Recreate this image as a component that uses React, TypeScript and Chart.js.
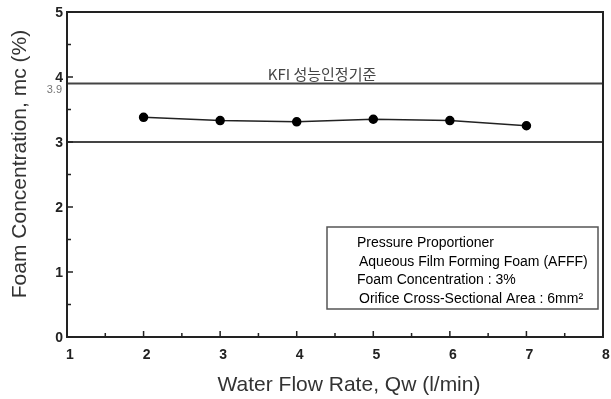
import React, { useEffect, useRef } from "react";
import { Chart, registerables } from "chart.js";

Chart.register(...registerables);

// Measured foam concentration at each water flow rate
const flowRates = [2, 3, 4, 5, 6, 7];
const concentrations = [3.38, 3.33, 3.31, 3.35, 3.33, 3.25];

// Horizontal reference levels (KFI acceptance band)
const upperLimit = 3.9;
const lowerLimit = 3.0;
const xRange = [1, 8];
const yRange = [0, 5];
const xTicks = [1, 2, 3, 4, 5, 6, 7, 8];
const yTicks = [0, 1, 2, 3, 4, 5];

const xTitle = "Water Flow Rate, Qw (l/min)";
const yTitle = "Foam Concentration, mc (%)";
const bandLabel = "KFI 성능인정기준";
const legendLines = [
  "Pressure Proportioner",
  "Aqueous Film Forming Foam (AFFF)",
  "Foam Concentration : 3%",
  "Orifice Cross-Sectional Area : 6mm²",
];

const FONT = "'Liberation Sans', Arial, sans-serif";

const decorations = {
  id: "decorations",
  afterDraw(chart: any) {
    const { ctx, chartArea, scales } = chart;
    const { left, right, top, bottom } = chartArea;
    const x = scales.x;
    const y = scales.y;
    ctx.save();

    // frame
    ctx.strokeStyle = "#222";
    ctx.lineWidth = 2;
    ctx.strokeRect(left, top, right - left, bottom - top);

    // inward ticks, major and minor
    ctx.lineWidth = 1.5;
    ctx.beginPath();
    for (let v = yRange[0]; v <= yRange[1] + 1e-9; v += 0.5) {
      const py = y.getPixelForValue(v);
      const len = Number.isInteger(v) ? 6 : 4;
      ctx.moveTo(left, py);
      ctx.lineTo(left + len, py);
    }
    for (let v = xRange[0]; v <= xRange[1] + 1e-9; v += 0.5) {
      const px = x.getPixelForValue(v);
      const len = Number.isInteger(v) ? 6 : 4;
      ctx.moveTo(px, bottom);
      ctx.lineTo(px, bottom - len);
    }
    ctx.stroke();

    // tick labels
    ctx.fillStyle = "#222";
    ctx.font = `bold 14px ${FONT}`;
    ctx.textBaseline = "middle";
    ctx.textAlign = "center";
    xTicks.forEach((v) => ctx.fillText(String(v), x.getPixelForValue(v) + 3, bottom + 18));
    ctx.textAlign = "right";
    yTicks.forEach((v) => ctx.fillText(String(v), left - 4, y.getPixelForValue(v) + 1));

    // band caption and upper-limit value
    ctx.fillStyle = "#444";
    ctx.font = `15px 'Noto Sans CJK KR', ${FONT}`;
    ctx.textAlign = "center";
    ctx.fillText(bandLabel, x.getPixelForValue(4.33), y.getPixelForValue(upperLimit) - 9);

    ctx.fillStyle = "#777";
    ctx.font = `11px ${FONT}`;
    ctx.textAlign = "right";
    ctx.fillText(String(upperLimit), left - 5, y.getPixelForValue(upperLimit) + 6);

    // info box
    const bx = right - 276;
    const by = bottom - 110;
    ctx.strokeStyle = "#555";
    ctx.lineWidth = 1.5;
    ctx.strokeRect(bx, by, 271, 82);
    ctx.fillStyle = "#000";
    ctx.font = `14px ${FONT}`;
    ctx.textAlign = "left";
    const offsets = [30, 32, 30, 32];
    const rows = [16, 35, 53, 72];
    legendLines.forEach((t, i) => ctx.fillText(t, bx + offsets[i], by + rows[i]));

    // axis titles
    ctx.fillStyle = "#333";
    ctx.font = `21px ${FONT}`;
    ctx.textAlign = "center";
    ctx.fillText(xTitle, 349, 385);
    ctx.translate(20, 164);
    ctx.rotate(-Math.PI / 2);
    ctx.fillText(yTitle, 0, 0);

    ctx.restore();
  },
};

export default function App() {
  const ref = useRef<HTMLCanvasElement>(null);

  useEffect(() => {
    if (!ref.current) return;
    const chart = new Chart(ref.current, {
      type: "line",
      data: {
        datasets: [
          {
            data: flowRates.map((f, i) => ({ x: f, y: concentrations[i] })),
            borderColor: "#222",
            borderWidth: 1.5,
            pointRadius: 4,
            pointBackgroundColor: "#000",
            pointBorderColor: "#000",
            tension: 0,
          },
          {
            data: xRange.map((v) => ({ x: v, y: upperLimit })),
            borderColor: "#444",
            borderWidth: 2,
            pointRadius: 0,
          },
          {
            data: xRange.map((v) => ({ x: v, y: lowerLimit })),
            borderColor: "#444",
            borderWidth: 2,
            pointRadius: 0,
          },
        ],
      },
      options: {
        responsive: false,
        animation: false,
        layout: { padding: { left: 0, top: 12, right: 8, bottom: 0 } },
        plugins: { legend: { display: false }, tooltip: { enabled: false } },
        scales: {
          x: {
            type: "linear",
            min: xRange[0],
            max: xRange[1],
            grid: { display: false },
            border: { display: false },
            ticks: { display: false, stepSize: 1 },
            afterFit: (s: any) => {
              s.height = 62;
            },
          },
          y: {
            min: yRange[0],
            max: yRange[1],
            grid: { display: false },
            border: { display: false },
            ticks: { display: false, stepSize: 1 },
            afterFit: (s: any) => {
              s.width = 67;
            },
          },
        },
      },
      plugins: [decorations],
    });
    return () => chart.destroy();
  }, []);

  return (
    <div style={{ position: "fixed", left: 0, top: 0, width: 611, height: 399, background: "#fff" }}>
      <canvas ref={ref} width={611} height={399} />
    </div>
  );
}
